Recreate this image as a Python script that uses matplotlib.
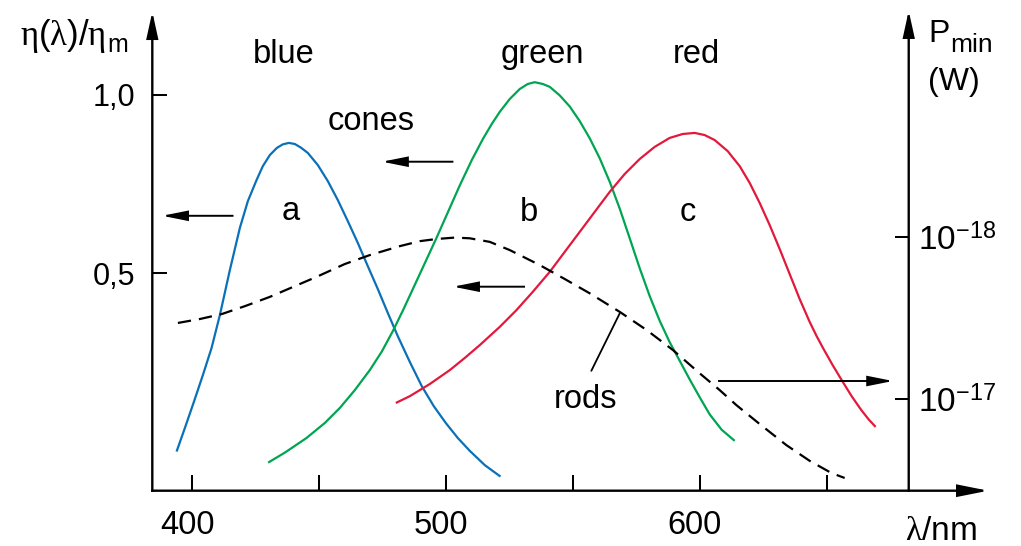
import matplotlib
matplotlib.use("Agg")
import matplotlib.pyplot as plt
from matplotlib.ticker import NullLocator
from matplotlib.transforms import ScaledTranslation

plt.rcParams['font.family'] = ['Liberation Sans', 'DejaVu Sans']
plt.rcParams['mathtext.fontset'] = 'custom'
plt.rcParams['mathtext.rm'] = 'Liberation Sans'
plt.rcParams['mathtext.it'] = 'Liberation Serif'
plt.rcParams['mathtext.bf'] = 'Liberation Sans:bold'

# ---- spectral sensitivity curves (wavelength in nm, relative efficiency) ----
blue_wl = [393.86, 397.13, 400.67, 404.21, 407.64, 410.91, 414.84, 418.78, 421.93,
           425.35, 427.83, 430.59, 433.35, 435.71, 438.07, 440.43, 442.80, 445.55,
           449.49, 453.43, 457.36, 461.30, 465.24, 469.17, 473.11, 477.05, 480.98,
           485.71, 490.43, 495.16, 499.88, 504.61, 509.33, 515.24, 521.42]
blue_eff = [0.001, 0.067, 0.140, 0.215, 0.291, 0.383, 0.509, 0.627, 0.702,
            0.761, 0.800, 0.831, 0.851, 0.861, 0.865, 0.862, 0.852, 0.837,
            0.803, 0.758, 0.705, 0.646, 0.585, 0.520, 0.456, 0.389, 0.324,
            0.252, 0.184, 0.128, 0.081, 0.039, 0.003, -0.037, -0.069]

green_wl = [429.92, 436.50, 445.04, 452.24, 458.15, 464.06, 469.96, 474.69, 479.02,
            483.07, 489.65, 496.22, 501.46, 505.39, 510.12, 514.57, 517.99, 521.14,
            525.08, 529.02, 532.17, 534.92, 538.07, 540.83, 544.76, 548.70, 552.64,
            556.57, 560.51, 564.45, 568.39, 572.32, 576.26, 580.20, 584.13, 588.07,
            592.01, 595.94, 599.88, 603.82, 608.54, 613.66]
green_eff = [-0.030, -0.002, 0.039, 0.081, 0.123, 0.173, 0.229, 0.281, 0.338,
             0.397, 0.498, 0.599, 0.683, 0.746, 0.817, 0.877, 0.918, 0.952,
             0.988, 1.016, 1.030, 1.035, 1.030, 1.022, 0.998, 0.967, 0.926,
             0.878, 0.822, 0.756, 0.681, 0.598, 0.514, 0.436, 0.367, 0.307,
             0.255, 0.203, 0.153, 0.105, 0.062, 0.031]

red_wl = [480.20, 485.71, 493.58, 501.46, 507.36, 513.27, 521.14, 527.72, 534.13,
          540.83, 546.73, 552.64, 558.54, 564.45, 570.35, 576.26, 582.17, 588.07,
          593.19, 597.91, 601.85, 605.79, 610.91, 615.63, 619.57, 623.50, 627.44,
          631.38, 635.31, 639.25, 643.19, 645.94, 648.43, 652.24, 656.06, 659.72,
          663.54, 666.42, 669.17]
red_eff = [0.137, 0.156, 0.190, 0.229, 0.263, 0.299, 0.350, 0.397, 0.448,
           0.504, 0.560, 0.616, 0.672, 0.728, 0.778, 0.820, 0.854, 0.879,
           0.890, 0.893, 0.887, 0.873, 0.842, 0.800, 0.753, 0.697, 0.635,
           0.568, 0.498, 0.428, 0.364, 0.324, 0.291, 0.243, 0.198, 0.156,
           0.117, 0.091, 0.070]

rods_wl = [394.37, 403.03, 411.69, 420.75, 430.59, 440.43, 448.98, 460.12, 469.96,
           481.77, 489.65, 496.22, 503.43, 509.33, 517.20, 525.08, 536.89, 546.73,
           556.57, 568.39, 579.02, 589.37, 599.88, 607.76, 614.33, 623.50, 634.02,
           643.19, 651.73, 656.97]
rods_eff = [0.361, 0.372, 0.386, 0.408, 0.434, 0.464, 0.490, 0.526, 0.551,
            0.576, 0.590, 0.596, 0.600, 0.598, 0.588, 0.565, 0.523, 0.484,
            0.444, 0.392, 0.341, 0.285, 0.220, 0.173, 0.131, 0.078, 0.019,
            -0.025, -0.059, -0.073]

x_ticks = [400, 450, 500, 550, 600, 650]
x_tick_labels = ['400', '', '500', '', '600', '']
y_ticks = [0.5, 1.0]
y_tick_labels = ['0,5', '1,0']
p_ticks = [1e-18, 1e-17]
p_tick_labels = [r'$10^{-18}$', r'$10^{-17}$']

BLUE, GREEN, RED = '#0A71B9', '#00A551', '#E2193C'

W, H = 1021, 546
fig = plt.figure(figsize=(W / 100, H / 100), dpi=100)
ax = fig.add_axes([0.14917, 0.10128, 0.82243, 0.88223])
ax.patch.set_visible(False)

X_LEFT, X_END, X_RAXIS = 384.3, 715.0, 682.2
Y_BOT, Y_TOP = -0.1086, 1.2399
ax.set_xlim(X_LEFT, X_END)
ax.set_ylim(Y_BOT, Y_TOP)
for s in ax.spines.values():
    s.set_visible(False)

LW = 1.6
curve_kw = dict(lw=LW, solid_capstyle='butt', solid_joinstyle='round')
ax.plot(blue_wl, blue_eff, color=BLUE, **curve_kw)
ax.plot(green_wl, green_eff, color=GREEN, **curve_kw)
ax.plot(red_wl, red_eff, color=RED, **curve_kw)
ax.plot(rods_wl, rods_eff, color='black', lw=LW, linestyle=(0, (6.0, 3.6)),
        dash_capstyle='butt')


def arrow(tail, tip, hl, hw, lw=1.4):
    ax.annotate('', xy=tip, xytext=tail, xycoords='data', textcoords='data',
                annotation_clip=False,
                arrowprops=dict(arrowstyle=f'-|>,head_length={hl},head_width={hw}',
                                mutation_scale=1, lw=lw, color='black',
                                shrinkA=0, shrinkB=0, joinstyle='miter',
                                capstyle='projecting'))


# axes drawn as arrows
arrow((X_LEFT, Y_BOT), (X_LEFT, 1.232), 15.5, 3.4, lw=1.7)
arrow((X_RAXIS, Y_BOT), (X_RAXIS, 1.235), 15.5, 3.4, lw=1.7)
arrow((X_LEFT, Y_BOT), (713.5, Y_BOT), 18.0, 3.6, lw=1.7)

# direction arrows
arrow((502.5, 0.8124), (474.8, 0.8124), 15.0, 3.0)
arrow((415.9, 0.661), (388.2, 0.661), 15.0, 3.0)
arrow((530.7, 0.4625), (502.8, 0.4625), 15.0, 3.0)
arrow((607.5, 0.1985), (676.0, 0.1985), 15.0, 3.0)

# leader line for the rods label
ax.annotate('', xy=(557.2, 0.227), xytext=(568.4, 0.388),
            arrowprops=dict(arrowstyle='-', lw=1.3, color='black',
                            shrinkA=0, shrinkB=0))

# ticks
ax.set_xticks(x_ticks, x_tick_labels)
ax.set_yticks(y_ticks, y_tick_labels)
ax.tick_params(axis='x', direction='in', length=11.8, width=1.45, pad=14,
               labelsize=23.5, colors='black')
ax.tick_params(axis='y', direction='in', length=11, width=1.45, pad=12,
               labelsize=22, colors='black')
shift = ScaledTranslation(-0.05, 0, fig.dpi_scale_trans)
for lbl in ax.get_xticklabels():
    lbl.set_transform(lbl.get_transform() + shift)

# right-hand logarithmic power axis
ax2 = ax.twinx()
ax2.patch.set_visible(False)
ax2.set_yscale('log')
ax2.set_ylim(10 ** -16.438, 10 ** -19.400)
ax2.set_yticks(p_ticks, p_tick_labels)
ax2.yaxis.set_minor_locator(NullLocator())
ax2.spines['right'].set_position(('data', X_RAXIS))
for s in ax2.spines.values():
    s.set_visible(False)
ax2.tick_params(axis='y', direction='in', length=10.3, width=1.45, pad=7,
                labelsize=24, colors='black')

# curve labels
TXT = 23.5
ax.text(436.1, 1.088, 'blue', ha='center', va='baseline', fontsize=TXT)
ax.text(537.9, 1.088, 'green', ha='center', va='baseline', fontsize=TXT)
ax.text(598.7, 1.088, 'red', ha='center', va='baseline', fontsize=TXT)
ax.text(470.6, 0.901, 'cones', ha='center', va='baseline', fontsize=TXT)
ax.text(438.9, 0.649, 'a', ha='center', va='baseline', fontsize=TXT)
ax.text(532.6, 0.646, 'b', ha='center', va='baseline', fontsize=TXT)
ax.text(595.2, 0.646, 'c', ha='center', va='baseline', fontsize=TXT)
ax.text(555.0, 0.122, 'rods', ha='center', va='baseline', fontsize=TXT)


def ftext(x, y, s, **kw):
    fig.text(x / W, 1 - y / H, s, **kw)


ftext(106, 45, r'$\eta(\lambda)/\eta$', ha='right', va='baseline', fontsize=25)
ftext(107, 52.3, 'm', ha='left', va='baseline', fontsize=18)
ftext(928, 42.3, 'P', ha='left', va='baseline', fontsize=23)
ftext(950, 51.7, 'min', ha='left', va='baseline', fontsize=19)
ftext(928, 90, '(W)', ha='left', va='baseline', fontsize=23)
ftext(941, 540, r'$\lambda/\mathrm{nm}$', ha='center', va='baseline', fontsize=24)

fig.savefig('out.png', dpi=100)
